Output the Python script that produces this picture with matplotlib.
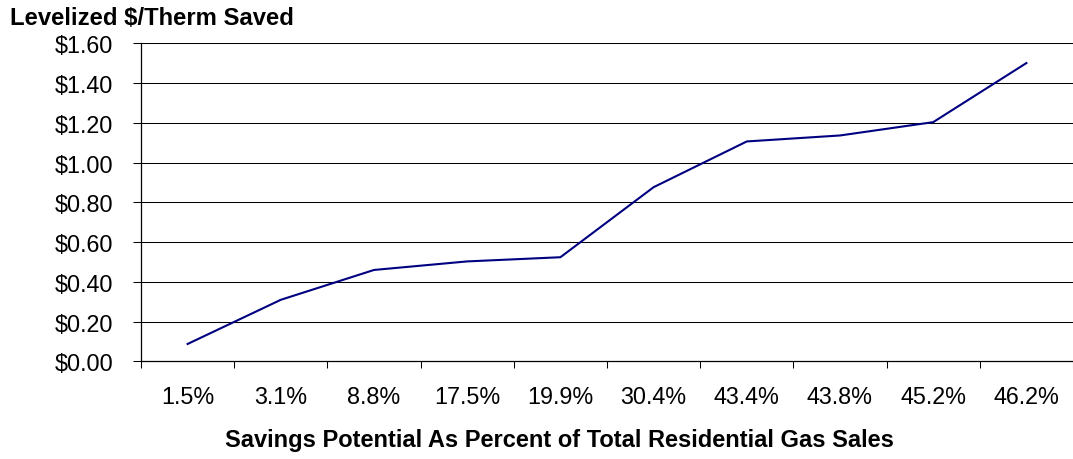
import numpy as np
import matplotlib
matplotlib.use('Agg')
import matplotlib.pyplot as plt

plt.rcParams['font.family'] = ['Liberation Sans', 'DejaVu Sans']

categories = ['1.5%', '3.1%', '8.8%', '17.5%', '19.9%', '30.4%', '43.4%', '43.8%', '45.2%', '46.2%']
cost = [0.088, 0.31, 0.46, 0.503, 0.524, 0.876, 1.106, 1.136, 1.203, 1.50]
yticks = np.arange(0, 1.61, 0.2)

fig = plt.figure(figsize=(10.73, 4.6), dpi=100)
ax = fig.add_axes([0.1314, 0.212, 0.8686, 0.692])

x = np.arange(len(categories))
ax.plot(x, cost, color='#000080', lw=1.5)

ax.set_xlim(-0.5, len(categories) - 0.5)
ax.set_ylim(0, 1.6)
ax.set_yticks(yticks)
ax.set_yticklabels(['$%.2f' % v for v in yticks], fontsize=16.8)
for v in yticks[1:]:
    ax.axhline(v, color='black', lw=0.75, zorder=0)

ax.set_xticks(x)
ax.set_xticklabels(categories, fontsize=16.8)
ax.set_xticks(np.arange(-0.5, len(categories)), minor=True)
ax.tick_params(axis='x', which='major', length=0, pad=17)
ax.tick_params(axis='x', which='minor', length=5, width=0.75, direction='out')
ax.tick_params(axis='y', length=5.8, width=0.75, direction='out', pad=14)

for s in ['top', 'right']:
    ax.spines[s].set_visible(False)
for s in ['left', 'bottom']:
    ax.spines[s].set_linewidth(0.9)

fig.text(0.0093, 0.9457, 'Levelized $/Therm Saved', fontsize=17.2, fontweight='bold',
         ha='left', va='baseline')
fig.text(0.5214, 0.0283, 'Savings Potential As Percent of Total Residential Gas Sales',
         fontsize=17, fontweight='bold', ha='center', va='baseline')

fig.savefig('out.png', dpi=100)
